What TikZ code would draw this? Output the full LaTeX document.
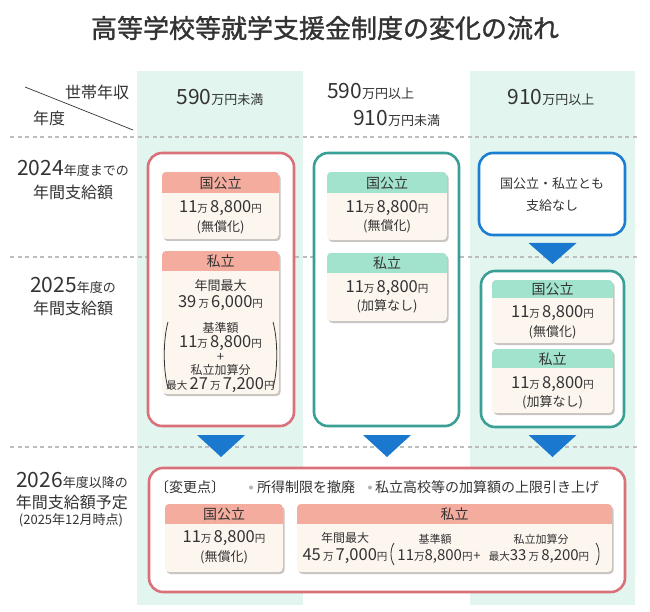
\documentclass[tikz,border=0pt]{standalone}
\usepackage{fontspec}
\setmainfont{Noto Sans CJK JP}
\newfontfamily\titlefont{Noto Sans CJK JP}[FakeBold=1.2]
\definecolor{txt}{HTML}{333333}
\definecolor{mintbg}{HTML}{E2F6EF}
\definecolor{dashc}{HTML}{BDBDBD}
\definecolor{redb}{HTML}{D9707A}
\definecolor{tealb}{HTML}{3AA096}
\definecolor{blueb}{HTML}{1C7ED3}
\definecolor{salmon}{HTML}{F3AC9E}
\definecolor{mint}{HTML}{A2E3CD}
\definecolor{cream}{HTML}{FDF6EF}
\definecolor{shadowc}{HTML}{C9C5C1}
\definecolor{arrowc}{HTML}{1A78CF}
\newcommand\bd[1]{{\fontsize{16.5}{18}\selectfont#1}}
\newcommand\bs[1]{{\fontsize{15}{17}\selectfont#1}}
\newcommand\su[1]{{\fontsize{10.5}{12}\selectfont#1}}
\newcommand\hd[1]{{\fontsize{21}{22}\selectfont#1}}
\newcommand\hu[1]{{\fontsize{13}{14}\selectfont#1}}
\newcommand\card[7]{%
 \fill[shadowc,rounded corners=4pt] (#2+1.5,#3+2) rectangle (#4+1.5,#6+2);
 \begin{scope}
 \clip[rounded corners=4pt] (#2,#3) rectangle (#4,#6);
 \fill[cream] (#2,#3) rectangle (#4,#6);
 \fill[#7] (#2,#3) rectangle (#4,#5);
 \end{scope}
 \coordinate (#1) at ({(#2+#4)/2},{(#3+#6)/2});
}
\newcommand\tri[3]{\fill[arrowc] (#1-24,#2) -- (#1+24,#2) -- (#1,#3) -- cycle;}
\tikzset{
 t/.style={inner sep=0pt, text=txt, font=\fontsize{13}{15}\selectfont},
 tl/.style={t, font=\fontsize{16}{18}\selectfont},
 ts/.style={t, font=\fontsize{12}{14}\selectfont},
 th/.style={t, font=\fontsize{14}{16}\selectfont},
 dashline/.style={draw=dashc, line width=1.8pt, dash pattern=on 4pt off 3.5pt},
 bigbox/.style={line width=2.6pt, rounded corners=14pt, fill=white, inner sep=0pt},
 paren/.style={draw=txt, line width=0.8pt},
}
\begin{document}
\begin{tikzpicture}[x=1pt,y=-1pt]
\useasboundingbox (0,0) rectangle (650,612);
\fill[white] (0,0) rectangle (650,612);
% columns
\fill[mintbg] (137,71) rectangle (303,605);
\fill[mintbg] (470,71) rectangle (635,605);
% title
\node[t, font=\titlefont\fontsize{26}{28}\selectfont] (title) at (325,28) {高等学校等就学支援金制度の変化の流れ};
% header
\draw[txt, line width=0.7pt] (25,87) -- (133,130);
\node[tl] (inc) at (97,92) {世帯年収};
\node[tl] (yr) at (49,118) {年度};
\node[t] (c1h) at (220,97) {\hd{590}\hu{万円未満}};
\node[t, anchor=west] (c2h1) at (327,91) {\hd{590}\hu{万円以上}};
\node[t, anchor=west] (c2h2) at (353,118) {\hd{910}\hu{万円未満}};
\node[t] (c3h) at (551,97) {\hd{910}\hu{万円以上}};
% dashed lines
\draw[dashline] (10,137) -- (637,137);
\draw[dashline] (10,257) -- (637,257);
\draw[dashline] (10,447) -- (637,447);
% left labels
\node[t] (l1a) at (73,168) {\hd{2024}\hu{年度までの}};
\node[tl] (l1b) at (73,192) {年間支給額};
\node[t] (l2a) at (73,285) {\hd{2025}\hu{年度の}};
\node[tl] (l2b) at (73,308) {年間支給額};
\node[t] (l3a) at (72,480) {\hd{2026}\hu{年度以降の}};
\node[tl] (l3b) at (72,502) {年間支給額予定};
\node[t] (l3c) at (71,520) {(2025年12月時点)};
% column 1
\node[bigbox, draw=redb, minimum width=146pt, minimum height=273pt] (b1) at (221,289.5) {};
\card{k1}{162}{172}{279}{193}{239}{salmon}
\node[th] (k1h) at (220.5,183) {国公立};
\node[t] (k1a) at (220.5,208) {\bd{11}\su{万}\,\bd{8,800}\su{円}};
\node[t] (k1b) at (220.5,227) {(無償化)};
\card{s1}{162}{251}{279}{271}{394}{salmon}
\node[th] (s1h) at (220.5,261.5) {私立};
\node[t] (s1a) at (220.5,286) {年間最大};
\node[t] (s1b) at (220.5,303) {\bd{39}\,\su{万}\,\bd{6,000}\su{円}};
\node[ts] (s1c) at (220.5,328) {基準額};
\node[t] (s1d) at (220.5,343) {\bd{11}\su{万}\,\bd{8,800}\su{円}};
\node[t] (s1e) at (220.5,357) {+};
\node[ts] (s1f) at (220.5,370) {私立加算分};
\node[t] (s1g) at (220.5,385) {\su{最大}\,\bd{27}\,\su{万}\,\bd{7,200}\su{円}};
\draw[paren] (168,322) .. controls (163,340) and (163,370) .. (168,388);
\draw[paren] (273,322) .. controls (278,340) and (278,370) .. (273,388);
% column 2
\node[bigbox, draw=tealb, minimum width=145pt, minimum height=273pt] (b2) at (386.5,289.5) {};
\card{k2}{327}{172}{447}{193}{240}{mint}
\node[th] (k2h) at (387,183) {国公立};
\node[t] (k2a) at (387,208) {\bd{11}\su{万}\,\bd{8,800}\su{円}};
\node[t] (k2b) at (387,226) {(無償化)};
\card{s2}{327}{253}{447}{273}{321}{mint}
\node[th] (s2h) at (387,263.5) {私立};
\node[t] (s2a) at (387,288) {\bd{11}\su{万}\,\bd{8,800}\su{円}};
\node[t] (s2b) at (387,306) {(加算なし)};
% column 3
\node[bigbox, draw=blueb, minimum width=146pt, minimum height=82pt] (b3) at (552,194) {};
\node[t] (b3a) at (552,184) {国公立・私立とも};
\node[t] (b3b) at (552,206) {支給なし};
\tri{552.5}{243}{264}
\node[bigbox, draw=tealb, minimum width=143pt, minimum height=156pt] (b4) at (552.5,349) {};
\card{k3}{492}{280}{613}{298}{343}{mint}
\node[th] (k3h) at (552.5,289.5) {国公立};
\node[t] (k3a) at (552.5,313) {\bd{11}\su{万}\,\bd{8,800}\su{円}};
\node[t] (k3b) at (552.5,332) {(無償化)};
\card{s3}{492}{349}{613}{368}{413}{mint}
\node[th] (s3h) at (552.5,359) {私立};
\node[t] (s3a) at (552.5,384) {\bd{11}\su{万}\,\bd{8,800}\su{円}};
\node[t] (s3b) at (552.5,402) {(加算なし)};
% arrows to 2026
\tri{221}{435}{457}
\tri{387}{435}{457}
\tri{552.5}{435}{457}
% bottom
\node[bigbox, draw=redb, minimum width=476pt, minimum height=124pt] (b5) at (387,530) {};
\node[th, anchor=west] (chg) at (155,487) {〔変更点〕};
\fill[gray!60] (251,487.5) circle (2pt);
\node[th, anchor=west] (chg1) at (257,487) {所得制限を撤廃};
\fill[gray!60] (370,487.5) circle (2pt);
\node[th, anchor=west] (chg2) at (375,487) {私立高校等の加算額の上限引き上げ};
\card{k4}{165}{504}{283}{524}{572}{salmon}
\node[th] (k4h) at (224,514) {国公立};
\node[t] (k4a) at (224,538) {\bd{11}\su{万}\,\bd{8,800}\su{円}};
\node[t] (k4b) at (224,557) {(無償化)};
\card{s4}{297}{504}{612}{524}{572}{salmon}
\node[th] (s4h) at (454.5,514) {私立};
\node[ts] (s4a) at (345,538) {年間最大};
\node[t] (s4b) at (345,556) {\bd{45}\,\su{万}\,\bd{7,000}\su{円}};
\node[t, font=\fontsize{11}{13}\selectfont] (s4c) at (435,539) {基準額};
\node[t] (s4d) at (435,556) {\bs{11}\su{万}\bs{8,800}\su{円}};
\node[t] (s4e) at (477,556) {+};
\node[t, font=\fontsize{11}{13}\selectfont] (s4f) at (541,539) {私立加算分};
\node[t] (s4g) at (539,556) {\su{最大}\bs{33}\,\su{万}\,\bs{8,200}\su{円}};
\draw[paren] (394,543) .. controls (390,549) and (390,559) .. (394,565);
\draw[paren] (596,543) .. controls (600,549) and (600,559) .. (596,565);
\end{tikzpicture}
\end{document}
